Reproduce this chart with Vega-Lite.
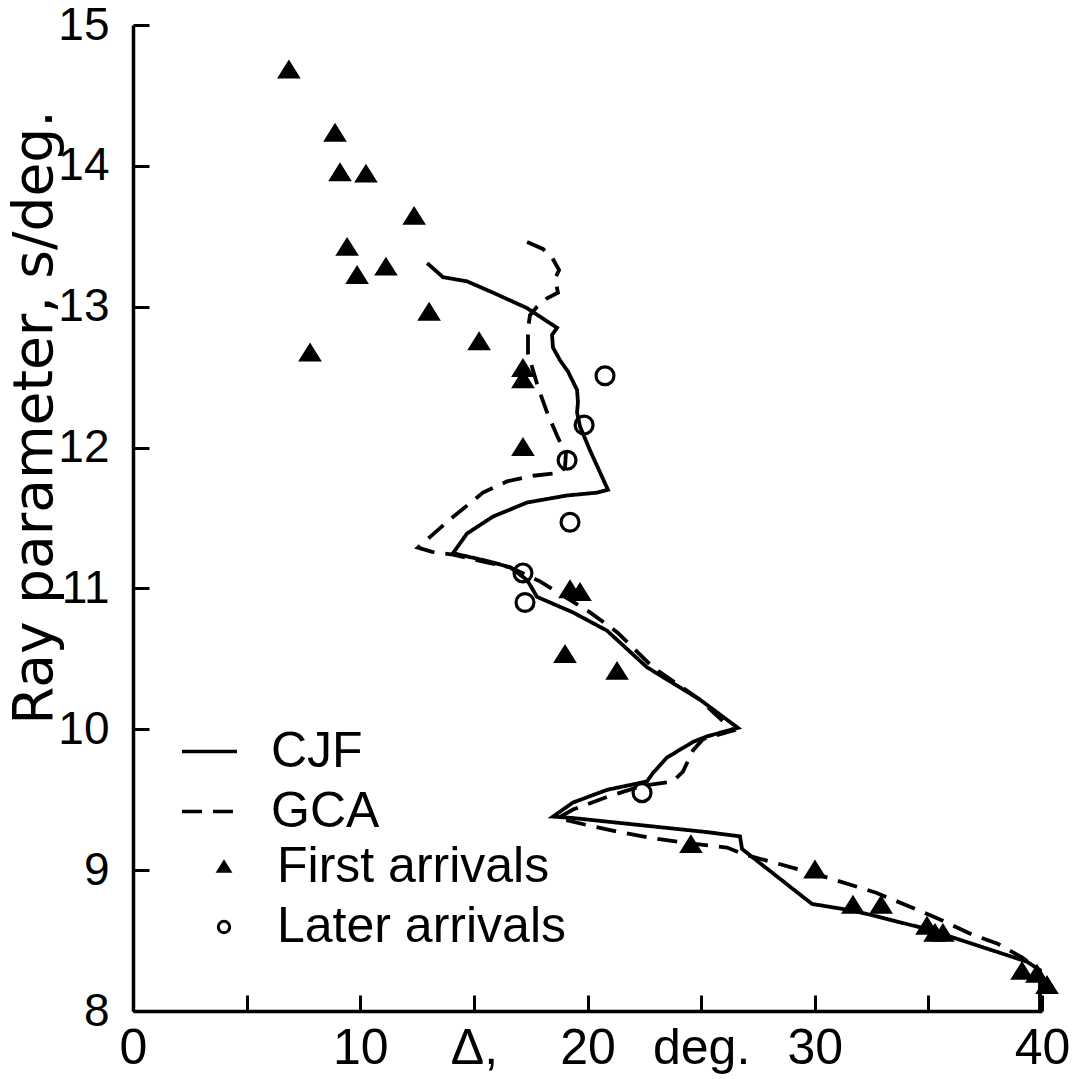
{
  "$schema": "https://vega.github.io/schema/vega-lite/v6.json",
  "width": 909,
  "height": 986,
  "autosize": {"type": "none"},
  "padding": {"left": 133, "top": 25, "right": 42, "bottom": 68},
  "background": "white",
  "config": {
    "view": {"stroke": null},
    "axis": {
      "grid": false,
      "domainColor": "black",
      "domainWidth": 3.5,
      "tickColor": "black",
      "tickWidth": 3,
      "labelColor": "black",
      "labelFont": "Liberation Sans",
      "labelFontSize": 46,
      "labelFontWeight": "normal",
      "titleColor": "black",
      "titleFontWeight": "normal"
    },
    "legend": {
      "labelColor": "black",
      "labelFont": "Liberation Sans",
      "labelFontSize": 50,
      "labelLimit": 600,
      "padding": 0
    }
  },
  "datasets": {
    "curves": [
      {"model": "CJF", "i": 1, "d": 12.94, "p": 13.31},
      {"model": "CJF", "i": 2, "d": 13.64, "p": 13.21},
      {"model": "CJF", "i": 3, "d": 14.7, "p": 13.18},
      {"model": "CJF", "i": 4, "d": 15.84, "p": 13.10},
      {"model": "CJF", "i": 5, "d": 17.34, "p": 12.99},
      {"model": "CJF", "i": 6, "d": 18.66, "p": 12.85},
      {"model": "CJF", "i": 7, "d": 18.44, "p": 12.80},
      {"model": "CJF", "i": 8, "d": 18.48, "p": 12.71},
      {"model": "CJF", "i": 9, "d": 18.79, "p": 12.62},
      {"model": "CJF", "i": 10, "d": 19.14, "p": 12.54},
      {"model": "CJF", "i": 11, "d": 19.54, "p": 12.41},
      {"model": "CJF", "i": 12, "d": 19.58, "p": 12.32},
      {"model": "CJF", "i": 13, "d": 19.54, "p": 12.25},
      {"model": "CJF", "i": 14, "d": 19.67, "p": 12.15},
      {"model": "CJF", "i": 15, "d": 20.11, "p": 11.98},
      {"model": "CJF", "i": 16, "d": 20.9, "p": 11.70},
      {"model": "CJF", "i": 17, "d": 20.42, "p": 11.68},
      {"model": "CJF", "i": 18, "d": 19.1, "p": 11.66},
      {"model": "CJF", "i": 19, "d": 17.34, "p": 11.61},
      {"model": "CJF", "i": 20, "d": 15.84, "p": 11.51},
      {"model": "CJF", "i": 21, "d": 14.7, "p": 11.39},
      {"model": "CJF", "i": 22, "d": 14.08, "p": 11.25},
      {"model": "CJF", "i": 23, "d": 15.71, "p": 11.19},
      {"model": "CJF", "i": 24, "d": 16.59, "p": 11.15},
      {"model": "CJF", "i": 25, "d": 17.34, "p": 11.06},
      {"model": "CJF", "i": 26, "d": 17.78, "p": 10.94},
      {"model": "CJF", "i": 27, "d": 18.35, "p": 10.90},
      {"model": "CJF", "i": 28, "d": 19.36, "p": 10.83},
      {"model": "CJF", "i": 29, "d": 20.86, "p": 10.70},
      {"model": "CJF", "i": 30, "d": 22.62, "p": 10.44},
      {"model": "CJF", "i": 31, "d": 24.95, "p": 10.21},
      {"model": "CJF", "i": 32, "d": 26.62, "p": 10.01},
      {"model": "CJF", "i": 33, "d": 25.26, "p": 9.95},
      {"model": "CJF", "i": 34, "d": 24.64, "p": 9.91},
      {"model": "CJF", "i": 35, "d": 23.5, "p": 9.80},
      {"model": "CJF", "i": 36, "d": 22.88, "p": 9.69},
      {"model": "CJF", "i": 37, "d": 22.62, "p": 9.63},
      {"model": "CJF", "i": 38, "d": 20.86, "p": 9.57},
      {"model": "CJF", "i": 39, "d": 19.36, "p": 9.48},
      {"model": "CJF", "i": 40, "d": 18.48, "p": 9.38},
      {"model": "CJF", "i": 41, "d": 19.36, "p": 9.37},
      {"model": "CJF", "i": 42, "d": 22.31, "p": 9.32},
      {"model": "CJF", "i": 43, "d": 25.26, "p": 9.27},
      {"model": "CJF", "i": 44, "d": 26.71, "p": 9.24},
      {"model": "CJF", "i": 45, "d": 26.8, "p": 9.15},
      {"model": "CJF", "i": 46, "d": 29.88, "p": 8.76},
      {"model": "CJF", "i": 47, "d": 31.77, "p": 8.71},
      {"model": "CJF", "i": 48, "d": 34.98, "p": 8.58},
      {"model": "CJF", "i": 49, "d": 39.34, "p": 8.35},
      {"model": "CJF", "i": 50, "d": 39.91, "p": 8.29},
      {"model": "CJF", "i": 51, "d": 39.91, "p": 8.0},
      {"model": "GCA", "i": 1, "d": 17.34, "p": 13.46},
      {"model": "GCA", "i": 2, "d": 18.04, "p": 13.41},
      {"model": "GCA", "i": 3, "d": 18.44, "p": 13.35},
      {"model": "GCA", "i": 4, "d": 18.75, "p": 13.26},
      {"model": "GCA", "i": 5, "d": 18.57, "p": 13.20},
      {"model": "GCA", "i": 6, "d": 18.7, "p": 13.10},
      {"model": "GCA", "i": 7, "d": 18.22, "p": 13.06},
      {"model": "GCA", "i": 8, "d": 17.78, "p": 13.0},
      {"model": "GCA", "i": 9, "d": 17.47, "p": 12.94},
      {"model": "GCA", "i": 10, "d": 17.38, "p": 12.84},
      {"model": "GCA", "i": 11, "d": 17.38, "p": 12.67},
      {"model": "GCA", "i": 12, "d": 17.82, "p": 12.43},
      {"model": "GCA", "i": 13, "d": 18.22, "p": 12.25},
      {"model": "GCA", "i": 14, "d": 18.7, "p": 12.07},
      {"model": "GCA", "i": 15, "d": 19.05, "p": 11.96},
      {"model": "GCA", "i": 16, "d": 19.01, "p": 11.86},
      {"model": "GCA", "i": 17, "d": 18.79, "p": 11.82},
      {"model": "GCA", "i": 18, "d": 17.6, "p": 11.80},
      {"model": "GCA", "i": 19, "d": 16.46, "p": 11.76},
      {"model": "GCA", "i": 20, "d": 15.4, "p": 11.68},
      {"model": "GCA", "i": 21, "d": 13.95, "p": 11.49},
      {"model": "GCA", "i": 22, "d": 12.54, "p": 11.29},
      {"model": "GCA", "i": 23, "d": 13.16, "p": 11.26},
      {"model": "GCA", "i": 24, "d": 14.08, "p": 11.24},
      {"model": "GCA", "i": 25, "d": 15.71, "p": 11.18},
      {"model": "GCA", "i": 26, "d": 16.59, "p": 11.15},
      {"model": "GCA", "i": 27, "d": 17.91, "p": 11.05},
      {"model": "GCA", "i": 28, "d": 20.11, "p": 10.83},
      {"model": "GCA", "i": 29, "d": 21.3, "p": 10.69},
      {"model": "GCA", "i": 30, "d": 22.88, "p": 10.44},
      {"model": "GCA", "i": 31, "d": 24.95, "p": 10.21},
      {"model": "GCA", "i": 32, "d": 26.4, "p": 9.99},
      {"model": "GCA", "i": 33, "d": 25.08, "p": 9.93},
      {"model": "GCA", "i": 34, "d": 24.64, "p": 9.85},
      {"model": "GCA", "i": 35, "d": 24.2, "p": 9.70},
      {"model": "GCA", "i": 36, "d": 23.76, "p": 9.63},
      {"model": "GCA", "i": 37, "d": 22.44, "p": 9.60},
      {"model": "GCA", "i": 38, "d": 20.86, "p": 9.52},
      {"model": "GCA", "i": 39, "d": 19.36, "p": 9.43},
      {"model": "GCA", "i": 40, "d": 18.7, "p": 9.37},
      {"model": "GCA", "i": 41, "d": 19.98, "p": 9.32},
      {"model": "GCA", "i": 42, "d": 21.43, "p": 9.27},
      {"model": "GCA", "i": 43, "d": 22.75, "p": 9.23},
      {"model": "GCA", "i": 44, "d": 24.51, "p": 9.19},
      {"model": "GCA", "i": 45, "d": 26.14, "p": 9.16},
      {"model": "GCA", "i": 46, "d": 26.93, "p": 9.11},
      {"model": "GCA", "i": 47, "d": 30.1, "p": 8.97},
      {"model": "GCA", "i": 48, "d": 32.7, "p": 8.84},
      {"model": "GCA", "i": 49, "d": 34.19, "p": 8.74},
      {"model": "GCA", "i": 50, "d": 35.51, "p": 8.65},
      {"model": "GCA", "i": 51, "d": 36.96, "p": 8.54},
      {"model": "GCA", "i": 52, "d": 38.02, "p": 8.48},
      {"model": "GCA", "i": 53, "d": 39.12, "p": 8.38},
      {"model": "GCA", "i": 54, "d": 39.47, "p": 8.34}
    ],
    "obs": [
      {"type": "First arrivals", "d": 6.86, "p": 14.68},
      {"type": "First arrivals", "d": 8.89, "p": 14.23},
      {"type": "First arrivals", "d": 9.11, "p": 13.95},
      {"type": "First arrivals", "d": 10.25, "p": 13.94},
      {"type": "First arrivals", "d": 12.37, "p": 13.64},
      {"type": "First arrivals", "d": 9.42, "p": 13.42},
      {"type": "First arrivals", "d": 9.86, "p": 13.22},
      {"type": "First arrivals", "d": 11.13, "p": 13.28},
      {"type": "First arrivals", "d": 13.03, "p": 12.96},
      {"type": "First arrivals", "d": 7.79, "p": 12.67},
      {"type": "First arrivals", "d": 15.23, "p": 12.75},
      {"type": "First arrivals", "d": 17.16, "p": 12.56},
      {"type": "First arrivals", "d": 17.16, "p": 12.48},
      {"type": "First arrivals", "d": 17.16, "p": 12.0},
      {"type": "First arrivals", "d": 19.23, "p": 10.99},
      {"type": "First arrivals", "d": 19.67, "p": 10.97},
      {"type": "First arrivals", "d": 19.01, "p": 10.53},
      {"type": "First arrivals", "d": 21.3, "p": 10.41},
      {"type": "First arrivals", "d": 24.55, "p": 9.18},
      {"type": "First arrivals", "d": 30.01, "p": 9.0},
      {"type": "First arrivals", "d": 31.68, "p": 8.75},
      {"type": "First arrivals", "d": 32.92, "p": 8.75},
      {"type": "First arrivals", "d": 34.94, "p": 8.6},
      {"type": "First arrivals", "d": 35.29, "p": 8.55},
      {"type": "First arrivals", "d": 35.64, "p": 8.55},
      {"type": "First arrivals", "d": 39.12, "p": 8.28},
      {"type": "First arrivals", "d": 39.78, "p": 8.26},
      {"type": "First arrivals", "d": 40.22, "p": 8.18},
      {"type": "Later arrivals", "d": 20.77, "p": 12.51},
      {"type": "Later arrivals", "d": 19.85, "p": 12.16},
      {"type": "Later arrivals", "d": 19.1, "p": 11.91},
      {"type": "Later arrivals", "d": 19.23, "p": 11.47},
      {"type": "Later arrivals", "d": 17.16, "p": 11.11},
      {"type": "Later arrivals", "d": 17.25, "p": 10.9},
      {"type": "Later arrivals", "d": 22.4, "p": 9.55}
    ]
  },
  "layer": [
    {
      "data": {"name": "curves"},
      "mark": {"type": "line", "color": "black", "strokeWidth": 3.8},
      "encoding": {
        "x": {
          "field": "d", "type": "quantitative",
          "scale": {"domain": [0, 40], "nice": false, "zero": false},
          "axis": {
            "title": null,
            "values": [0, 5, 10, 15, 20, 25, 30, 35, 40],
            "format": "d",
            "labelExpr": "datum.value == 15 ? 'Δ,' : datum.value == 25 ? 'deg.' : (datum.value == 5 || datum.value == 35) ? '' : datum.label",
            "labelFontSize": 50,
            "tickSize": -16,
            "labelPadding": 28,
            "labelFlush": false,
            "labelOverlap": false
          }
        },
        "y": {
          "field": "p", "type": "quantitative",
          "scale": {"domain": [8, 15], "nice": false, "zero": false},
          "axis": {
            "title": "Ray parameter, s/deg.",
            "titleFont": "DejaVu Sans",
            "titleFontSize": 55,
            "titleX": -82,
            "titleY": 392,
            "titleAlign": "center",
            "titleBaseline": "alphabetic",
            "values": [8, 9, 10, 11, 12, 13, 14, 15],
            "format": "d",
            "tickSize": -16,
            "labelPadding": 40,
            "labelFlush": false,
            "labelOverlap": false
          }
        },
        "order": {"field": "i", "type": "quantitative"},
        "strokeDash": {
          "field": "model", "type": "nominal",
          "scale": {"domain": ["CJF", "GCA"], "range": [[1, 0], [20, 11]]},
          "legend": {
            "orient": "none",
            "legendX": 47,
            "legendY": 697,
            "title": null,
            "symbolType": "stroke",
            "symbolSize": 3025,
            "symbolStrokeWidth": 3.5,
            "symbolStrokeColor": "black",
            "labelOffset": 32,
            "rowPadding": 5
          }
        }
      }
    },
    {
      "data": {"name": "obs"},
      "mark": {"type": "point", "stroke": "black", "strokeWidth": 3.2, "opacity": 1, "size": 320},
      "encoding": {
        "x": {"field": "d", "type": "quantitative"},
        "y": {"field": "p", "type": "quantitative"},
        "shape": {
          "field": "type", "type": "nominal",
          "scale": {"domain": ["First arrivals", "Later arrivals"], "range": ["M-1,0.75L0,-0.85L1,0.75Z", "circle"]},
          "legend": {
            "orient": "none",
            "legendX": 66,
            "legendY": 817,
            "title": null,
            "symbolSize": 130,
            "symbolStrokeWidth": 3,
            "labelOffset": 28,
            "rowPadding": 10
          }
        },
        "fill": {
          "field": "type", "type": "nominal",
          "scale": {"domain": ["First arrivals", "Later arrivals"], "range": ["black", "transparent"]},
          "legend": {
            "orient": "none",
            "legendX": 66,
            "legendY": 817,
            "title": null,
            "symbolSize": 130,
            "symbolStrokeWidth": 3,
            "labelOffset": 28,
            "rowPadding": 10
          }
        }
      }
    }
  ]
}
